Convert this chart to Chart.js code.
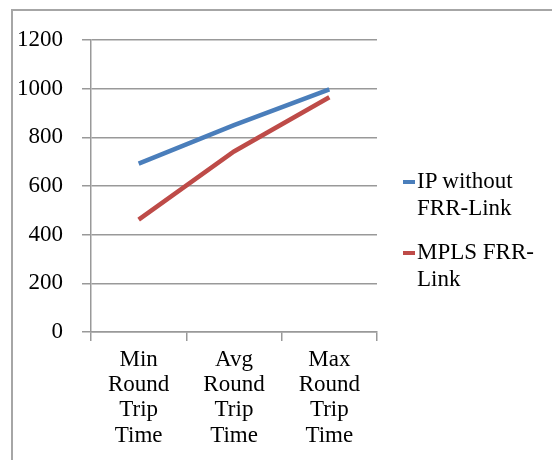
<!DOCTYPE html>
<html>
<head>
<meta charset="utf-8">
<script src="https://cdn.jsdelivr.net/npm/chart.js@4/dist/chart.umd.min.js"></script>
<style>
  body { margin: 0; background: #fff; }
  #wrap { position: relative; width: 552px; height: 460px; overflow: hidden; }
  #frame { position: absolute; left: 11px; top: 9px; width: 600px; height: 500px; border: 2px solid #a6a6a6; }
  #legend { position: absolute; left: 403px; top: 167px; font: 23px "Liberation Serif", serif; line-height: 27px; color: #000; }
  .item { position: relative; padding-left: 14px; margin-bottom: 17px; }
  .item span { position: absolute; left: 0; top: 13px; width: 12px; height: 4px; }
</style>
</head>
<body>
<div id="wrap">
  <canvas id="chart" width="552" height="460"></canvas>
  <div id="frame"></div>
  <div id="legend"></div>
</div>
<script>
const categories = [
  ["Min", "Round", "Trip", "Time"],
  ["Avg", "Round", "Trip", "Time"],
  ["Max", "Round", "Trip", "Time"]
];
const seriesNames = [["IP without", "FRR-Link"], ["MPLS FRR-", "Link"]];
const ipWithoutFrr = [692, 850, 997];
const mplsFrr = [462, 742, 965];
const seriesColors = ["#4a7ebb", "#be4b48"];

Chart.defaults.font.family = '"Liberation Serif", serif';
Chart.defaults.font.size = 23;
Chart.defaults.color = "#000";

const chart = new Chart(document.getElementById("chart").getContext("2d"), {
  type: "line",
  data: {
    labels: categories,
    datasets: [ipWithoutFrr, mplsFrr].map((values, i) => ({
      label: seriesNames[i].join(" "),
      data: values,
      borderColor: seriesColors[i],
      backgroundColor: seriesColors[i],
      borderWidth: 4.5,
      pointRadius: 0,
      tension: 0
    }))
  },
  options: {
    responsive: false,
    animation: false,
    layout: { padding: { left: 0, top: 40, right: 175, bottom: 0 } },
    plugins: { legend: { display: false }, tooltip: { enabled: false } },
    scales: {
      x: {
        offset: true,
        grid: { offset: true, drawOnChartArea: false, tickLength: 9, color: "#999", lineWidth: 1.5 },
        border: { color: "#999", width: 1.5 },
        ticks: { padding: 6, maxRotation: 0, font: { size: 23, lineHeight: 1.1 } },
        afterFit: scale => { scale.height = 128; }
      },
      y: {
        min: 0,
        max: 1200,
        ticks: { stepSize: 200, padding: 19, callback: v => String(v) },
        grid: { tickLength: 9, color: "#999", lineWidth: 1.5 },
        border: { color: "#999", width: 1.5 },
        afterFit: scale => { scale.width = 91; }
      }
    }
  }
});

const legend = document.getElementById("legend");
chart.data.datasets.forEach((ds, i) => {
  const div = document.createElement("div");
  div.className = "item";
  const mark = document.createElement("span");
  mark.style.background = ds.borderColor;
  div.appendChild(mark);
  div.appendChild(document.createTextNode(seriesNames[i][0]));
  div.appendChild(document.createElement("br"));
  div.appendChild(document.createTextNode(seriesNames[i][1]));
  legend.appendChild(div);
});
</script>
</body>
</html>
